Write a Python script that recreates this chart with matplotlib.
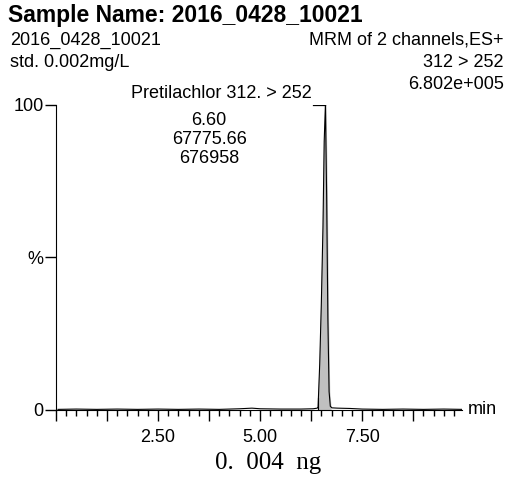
import numpy as np
import matplotlib
matplotlib.use("Agg")
import matplotlib.pyplot as plt
from matplotlib.ticker import MultipleLocator, FixedLocator

plt.rcParams['font.family'] = ['Liberation Sans', 'DejaVu Sans']

# chromatogram trace
t = [0.05, 0.5, 1.0, 1.5, 2.0, 2.5, 3.0, 3.5, 4.0, 4.5, 4.8, 5.0, 5.5, 6.0, 6.3,
     6.40, 6.42, 6.46, 6.50, 6.54, 6.57, 6.60, 6.63, 6.66, 6.69, 6.72,
     6.76, 6.9, 7.2, 7.5, 8.0, 8.5, 9.0, 9.5, 9.95]
inten = [0.2, 0.3, 0.2, 0.3, 0.2, 0.3, 0.2, 0.3, 0.2, 0.4, 0.6, 0.4, 0.3, 0.3, 0.4,
         0.6, 1.0, 15, 35, 60, 88, 100, 70, 30, 6, 1.2,
         0.7, 0.6, 0.5, 0.3, 0.2, 0.3, 0.2, 0.3, 0.2]

# integration window
int_start, int_end = 6.42, 6.72

peak_name = "Pretilachlor 312. > 252"
peak_rt = "6.60"
peak_area = "67775.66"
peak_h = "676958"

title = "Sample Name: 2016_0428_10021"
left_info = ["2016_0428_10021", "std. 0.002mg/L"]
right_info = ["MRM of 2 channels,ES+", "312 > 252", "6.802e+005"]
caption = "0.  004  ng"

t = np.array(t)
inten = np.array(inten)

fig = plt.figure(figsize=(5.09, 4.91), dpi=100)
ax = fig.add_axes([0.110, 0.165, 0.798, 0.622])

ax.plot(t, inten, color='black', lw=0.8)
m = (t >= int_start) & (t <= int_end)
ax.fill_between(t[m], inten[m], color='#c0c0c0')
ax.plot([int_start, int_start], [0, 4], color='black', lw=0.8)

# peak label with leader line
ip = np.argmax(inten)
ax.plot([t[ip] - 0.30, t[ip]], [inten[ip], inten[ip]], color='black', lw=0.9)
ax.text(t[ip] - 0.33, inten[ip] + 1, peak_name, ha='right', va='bottom', fontsize=13)
ax.text(3.75, 97.5, "\n".join([peak_rt, peak_area, peak_h]), ha='center', va='top',
        fontsize=13, linespacing=1.15)

ax.set_xlim(0, 9.95)
ax.set_ylim(0, 100)
for s in ['top', 'right']:
    ax.spines[s].set_visible(False)

ax.xaxis.set_major_locator(MultipleLocator(1.25))
ax.xaxis.set_minor_locator(MultipleLocator(0.25))
ax.xaxis.set_major_formatter(lambda v, p: "%.2f" % v if abs(v / 2.5 - round(v / 2.5)) < 1e-6 and v > 0 else "")
ax.tick_params(axis='x', which='major', length=8, width=1, labelsize=13, pad=6)
ax.tick_params(axis='x', which='minor', length=4, width=1)

ax.yaxis.set_major_locator(FixedLocator([0, 50, 100]))
ax.set_yticklabels(["0", "%", "100"])
ax.tick_params(axis='y', length=8, width=1, labelsize=13, pad=1)

ax.text(1.015, 0.0, "min", transform=ax.transAxes, ha='left', va='center', fontsize=13)

fig.text(0.016, 0.968, title, fontsize=16.5, fontweight='bold', ha='left', va='center')
fig.text(0.02, 0.918, left_info[0], fontsize=13, ha='left', va='center')
fig.text(0.02, 0.873, left_info[1], fontsize=13, ha='left', va='center')
for k, s in enumerate(right_info):
    fig.text(0.99, 0.918 - k * 0.045, s, fontsize=13, ha='right', va='center')

fig.text(0.527, 0.057, caption, fontsize=18, ha='center', va='center',
         family=['Liberation Serif', 'DejaVu Serif'])

fig.savefig("out.png", dpi=100)
